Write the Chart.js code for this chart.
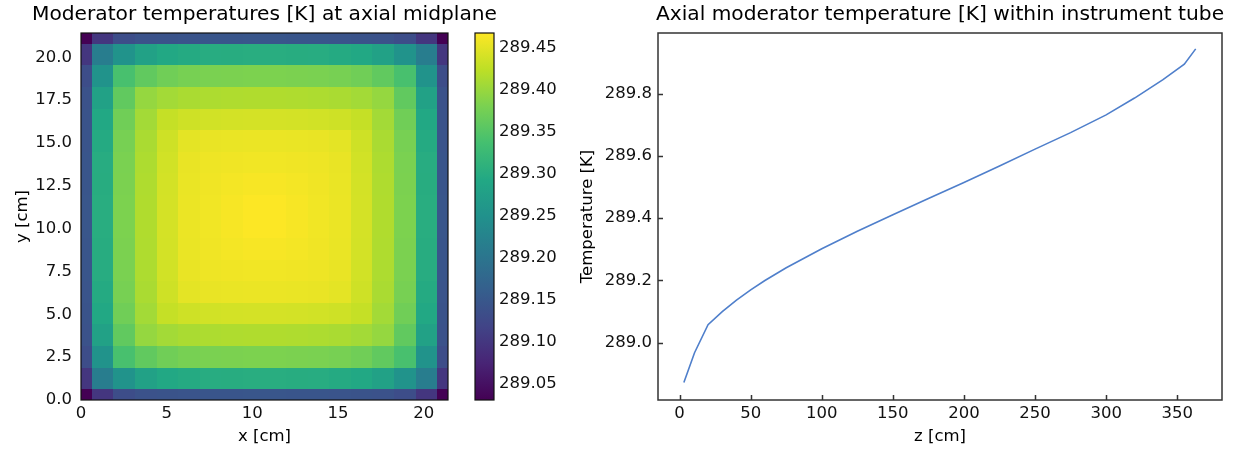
<!DOCTYPE html>
<html>
<head>
<meta charset="utf-8">
<script src="https://cdn.jsdelivr.net/npm/chart.js@4.4.1/dist/chart.umd.min.js"></script>
<style>
  body { margin: 0; background: #fff; }
  #wrap { position: relative; width: 1238px; height: 451px; }
  #wrap canvas { position: absolute; top: 0; }
</style>
</head>
<body>
<div id="wrap">
  <canvas id="map_chart" width="560" height="451" style="left:0"></canvas>
  <canvas id="cbar_chart" width="98" height="451" style="left:462px"></canvas>
  <canvas id="axial_chart" width="678" height="451" style="left:560px"></canvas>
</div>
<script>
// subchannel boundaries across the assembly [cm] (half channels on the faces)
const cellEdges = [0, 0.63, 1.89, 3.15, 4.41, 5.67, 6.93, 8.19, 9.45, 10.71,
                   11.97, 13.23, 14.49, 15.75, 17.01, 18.27, 19.53, 20.79, 21.42];

// moderator temperature per subchannel at midplane [K], row 0 = y bottom
const moderatorTemps = [
  [289.030, 289.098, 289.132, 289.140, 289.142, 289.144, 289.145, 289.145, 289.146, 289.146, 289.145, 289.145, 289.144, 289.142, 289.140, 289.132, 289.098, 289.030],
  [289.098, 289.214, 289.252, 289.280, 289.292, 289.297, 289.300, 289.301, 289.302, 289.302, 289.301, 289.300, 289.297, 289.292, 289.280, 289.252, 289.214, 289.098],
  [289.132, 289.252, 289.340, 289.360, 289.372, 289.378, 289.380, 289.381, 289.382, 289.382, 289.381, 289.380, 289.378, 289.372, 289.360, 289.340, 289.252, 289.132],
  [289.140, 289.280, 289.360, 289.398, 289.407, 289.412, 289.414, 289.415, 289.416, 289.416, 289.415, 289.414, 289.412, 289.407, 289.398, 289.360, 289.280, 289.140],
  [289.142, 289.292, 289.372, 289.407, 289.430, 289.436, 289.438, 289.439, 289.440, 289.440, 289.439, 289.438, 289.436, 289.430, 289.407, 289.372, 289.292, 289.142],
  [289.144, 289.297, 289.378, 289.412, 289.436, 289.451, 289.454, 289.455, 289.456, 289.456, 289.455, 289.454, 289.451, 289.436, 289.412, 289.378, 289.297, 289.144],
  [289.145, 289.300, 289.380, 289.414, 289.438, 289.454, 289.458, 289.459, 289.460, 289.460, 289.459, 289.458, 289.454, 289.438, 289.414, 289.380, 289.300, 289.145],
  [289.145, 289.301, 289.381, 289.415, 289.439, 289.455, 289.459, 289.462, 289.464, 289.464, 289.462, 289.459, 289.455, 289.439, 289.415, 289.381, 289.301, 289.145],
  [289.146, 289.302, 289.382, 289.416, 289.440, 289.456, 289.460, 289.464, 289.467, 289.467, 289.464, 289.460, 289.456, 289.440, 289.416, 289.382, 289.302, 289.146],
  [289.146, 289.302, 289.382, 289.416, 289.440, 289.456, 289.460, 289.464, 289.467, 289.467, 289.464, 289.460, 289.456, 289.440, 289.416, 289.382, 289.302, 289.146],
  [289.145, 289.301, 289.381, 289.415, 289.439, 289.455, 289.459, 289.462, 289.464, 289.464, 289.462, 289.459, 289.455, 289.439, 289.415, 289.381, 289.301, 289.145],
  [289.145, 289.300, 289.380, 289.414, 289.438, 289.454, 289.458, 289.459, 289.460, 289.460, 289.459, 289.458, 289.454, 289.438, 289.414, 289.380, 289.300, 289.145],
  [289.144, 289.297, 289.378, 289.412, 289.436, 289.451, 289.454, 289.455, 289.456, 289.456, 289.455, 289.454, 289.451, 289.436, 289.412, 289.378, 289.297, 289.144],
  [289.142, 289.292, 289.372, 289.407, 289.430, 289.436, 289.438, 289.439, 289.440, 289.440, 289.439, 289.438, 289.436, 289.430, 289.407, 289.372, 289.292, 289.142],
  [289.140, 289.280, 289.360, 289.398, 289.407, 289.412, 289.414, 289.415, 289.416, 289.416, 289.415, 289.414, 289.412, 289.407, 289.398, 289.360, 289.280, 289.140],
  [289.132, 289.252, 289.340, 289.360, 289.372, 289.378, 289.380, 289.381, 289.382, 289.382, 289.381, 289.380, 289.378, 289.372, 289.360, 289.340, 289.252, 289.132],
  [289.098, 289.214, 289.252, 289.280, 289.292, 289.297, 289.300, 289.301, 289.302, 289.302, 289.301, 289.300, 289.297, 289.292, 289.280, 289.252, 289.214, 289.098],
  [289.030, 289.098, 289.132, 289.140, 289.142, 289.144, 289.145, 289.145, 289.146, 289.146, 289.145, 289.145, 289.144, 289.142, 289.140, 289.132, 289.098, 289.030]
];
const tempMin = 289.03;
const tempMax = 289.468;

const mapTicksX = [0, 5, 10, 15, 20];
const mapTicksY = [0, 2.5, 5, 7.5, 10, 12.5, 15, 17.5, 20];
const cbarTicks = [289.05, 289.10, 289.15, 289.20, 289.25, 289.30, 289.35, 289.40, 289.45];

// axial profile in the instrument tube
const axialZ = [3, 10.5, 20, 30, 40, 50, 60, 75, 100, 125, 150, 175, 200,
                225, 250, 275, 300, 320, 340, 355, 363];
const axialTemp = [288.872, 288.968, 289.058, 289.100, 289.137, 289.170, 289.200,
                   289.241, 289.302, 289.358, 289.411, 289.463, 289.515, 289.568,
                   289.622, 289.675, 289.732, 289.786, 289.845, 289.895, 289.944];
const axialTicksX = [0, 50, 100, 150, 200, 250, 300, 350];
const axialTicksY = [289.0, 289.2, 289.4, 289.6, 289.8];

const viridisStops = ['#440154', '#482475', '#414487', '#355f8d', '#2a788e', '#21918c',
                      '#22a884', '#44bf70', '#7ad151', '#bddf26', '#fde725'];

Chart.defaults.font.family = 'DejaVu Sans';
Chart.defaults.font.size = 16.5;
Chart.defaults.color = '#111';
Chart.defaults.animation = false;

function hex_to_rgb(h) {
  return [1, 3, 5].map(i => parseInt(h.substr(i, 2), 16));
}

function viridis(t) {
  t = Math.min(1, Math.max(0, t));
  const f = t * (viridisStops.length - 1);
  const i = Math.min(Math.floor(f), viridisStops.length - 2);
  const a = hex_to_rgb(viridisStops[i]);
  const b = hex_to_rgb(viridisStops[i + 1]);
  const k = f - i;
  const c = a.map((v, n) => Math.round(v + (b[n] - v) * k));
  return 'rgb(' + c.join(',') + ')';
}

// fixed ticks taken from a list
function fixed_ticks(list) {
  return function(scale) {
    scale.ticks = list.map(v => ({ value: v }));
  };
}

// draws the subchannel cells through the chart scales
const cellPlugin = {
  id: 'cells',
  beforeDatasetsDraw(chart) {
    const ctx = chart.ctx;
    const xs = chart.scales.x;
    const ys = chart.scales.y;
    for (let r = 0; r < moderatorTemps.length; r++) {
      const y0 = Math.round(ys.getPixelForValue(cellEdges[r]));
      const y1 = Math.round(ys.getPixelForValue(cellEdges[r + 1]));
      for (let c = 0; c < moderatorTemps[r].length; c++) {
        const x0 = Math.round(xs.getPixelForValue(cellEdges[c]));
        const x1 = Math.round(xs.getPixelForValue(cellEdges[c + 1]));
        ctx.fillStyle = viridis((moderatorTemps[r][c] - tempMin) / (tempMax - tempMin));
        ctx.fillRect(x0, y1, x1 - x0, y0 - y1);
      }
    }
  }
};

// box around the plot area, optional inward ticks on left and bottom
const framePlugin = {
  id: 'frame',
  afterDraw(chart, args, opts) {
    const ctx = chart.ctx;
    const a = chart.chartArea;
    ctx.save();
    ctx.strokeStyle = opts.color || '#222';
    ctx.lineWidth = opts.width || 1;
    if (opts.ticks) {
      const xs = chart.scales.x;
      const ys = chart.scales.y;
      ctx.beginPath();
      xs.ticks.forEach(t => {
        const px = Math.round(xs.getPixelForValue(t.value)) + 0.5;
        ctx.moveTo(px, a.bottom);
        ctx.lineTo(px, a.bottom - 5);
      });
      ys.ticks.forEach(t => {
        const py = Math.round(ys.getPixelForValue(t.value)) + 0.5;
        ctx.moveTo(a.left, py);
        ctx.lineTo(a.left + 5, py);
      });
      ctx.stroke();
    }
    ctx.strokeRect(a.left, a.top, a.right - a.left, a.bottom - a.top);
    ctx.restore();
  }
};

// axes title centred over the plot area, allowed to run past its edges
const headPlugin = {
  id: 'head',
  afterDraw(chart, args, opts) {
    if (!opts.text) return;
    const ctx = chart.ctx;
    const a = chart.chartArea;
    ctx.save();
    ctx.font = opts.size + 'px "DejaVu Sans"';
    ctx.fillStyle = '#000';
    ctx.textAlign = 'center';
    ctx.textBaseline = 'middle';
    ctx.fillText(opts.text, (a.left + a.right) / 2, 15);
    ctx.restore();
  }
};

function create_map_chart() {
  const config = {
    type: 'scatter',
    data: { datasets: [{ data: [], pointRadius: 0 }] },
    plugins: [cellPlugin, framePlugin, headPlugin],
    options: {
      responsive: false,
      layout: { padding: { left: 0, right: 112, top: 33, bottom: 0 } },
      plugins: {
        legend: { display: false },
        tooltip: { enabled: false },
        head: { text: 'Moderator temperatures [K] at axial midplane', size: 20.2 },
        frame: { color: '#111', width: 1.2 }
      },
      scales: {
        x: {
          type: 'linear', min: 0, max: 21.42,
          afterBuildTicks: fixed_ticks(mapTicksX),
          afterFit: s => { s.height = 51; },
          grid: { display: false, drawTicks: false },
          border: { display: false },
          ticks: { padding: 4, maxRotation: 0, callback: v => String(v) },
          title: { display: true, text: 'x [cm]', color: '#000', padding: { bottom: 4 } }
        },
        y: {
          type: 'linear', min: 0, max: 21.42,
          afterBuildTicks: fixed_ticks(mapTicksY),
          afterFit: s => { s.width = 81; },
          grid: { display: false, drawTicks: false },
          border: { display: false },
          ticks: { padding: 9, callback: v => v.toFixed(1) },
          title: { display: true, text: 'y [cm]', color: '#000', padding: { top: 13 } }
        }
      }
    }
  };
  new Chart(document.getElementById('map_chart'), config);
}

function create_cbar_chart() {
  const config = {
    type: 'bar',
    data: {
      labels: [''],
      datasets: [{
        data: [[tempMin, tempMax]],
        barPercentage: 1,
        categoryPercentage: 1,
        borderWidth: 0,
        backgroundColor(c) {
          const area = c.chart.chartArea;
          if (!area) return viridisStops[5];
          const g = c.chart.ctx.createLinearGradient(0, area.bottom, 0, area.top);
          viridisStops.forEach((col, i) => g.addColorStop(i / (viridisStops.length - 1), col));
          return g;
        }
      }]
    },
    plugins: [framePlugin],
    options: {
      responsive: false,
      layout: { padding: { left: 13, right: 0, top: 33, bottom: 51 } },
      plugins: {
        legend: { display: false },
        tooltip: { enabled: false },
        frame: { color: '#111', width: 1.2 }
      },
      scales: {
        x: { display: false },
        y: {
          position: 'right',
          min: tempMin, max: tempMax,
          afterBuildTicks: fixed_ticks(cbarTicks),
          afterFit: s => { s.width = 66; },
          grid: { display: false, drawTicks: false },
          border: { display: false },
          ticks: { padding: 5, callback: v => v.toFixed(2) }
        }
      }
    }
  };
  new Chart(document.getElementById('cbar_chart'), config);
}

function create_axial_chart() {
  const points = axialZ.map((z, i) => ({ x: z, y: axialTemp[i] }));
  const config = {
    type: 'line',
    data: {
      datasets: [{
        data: points,
        borderColor: '#4f7fcb',
        borderWidth: 1.6,
        pointRadius: 0,
        tension: 0,
        fill: false
      }]
    },
    plugins: [framePlugin, headPlugin],
    options: {
      responsive: false,
      layout: { padding: { left: 0, right: 16, top: 33, bottom: 0 } },
      plugins: {
        legend: { display: false },
        tooltip: { enabled: false },
        head: { text: 'Axial moderator temperature [K] within instrument tube', size: 20.2 },
        frame: { color: '#333', width: 1.5, ticks: true }
      },
      scales: {
        x: {
          type: 'linear', min: -15.2, max: 381.5,
          afterBuildTicks: fixed_ticks(axialTicksX),
          afterFit: s => { s.height = 51; },
          grid: { display: false, drawTicks: false },
          border: { display: false },
          ticks: { padding: 4, maxRotation: 0, callback: v => String(v) },
          title: { display: true, text: 'z [cm]', color: '#000', padding: { bottom: 4 } }
        },
        y: {
          type: 'linear', min: 288.816, max: 289.995,
          afterBuildTicks: fixed_ticks(axialTicksY),
          afterFit: s => { s.width = 98; },
          grid: { display: false, drawTicks: false },
          border: { display: false },
          ticks: { padding: 6, callback: v => v.toFixed(1) },
          title: { display: true, text: 'Temperature [K]', color: '#000', padding: { top: 18 } }
        }
      }
    }
  };
  new Chart(document.getElementById('axial_chart'), config);
}

create_map_chart();
create_cbar_chart();
create_axial_chart();
</script>
</body>
</html>
